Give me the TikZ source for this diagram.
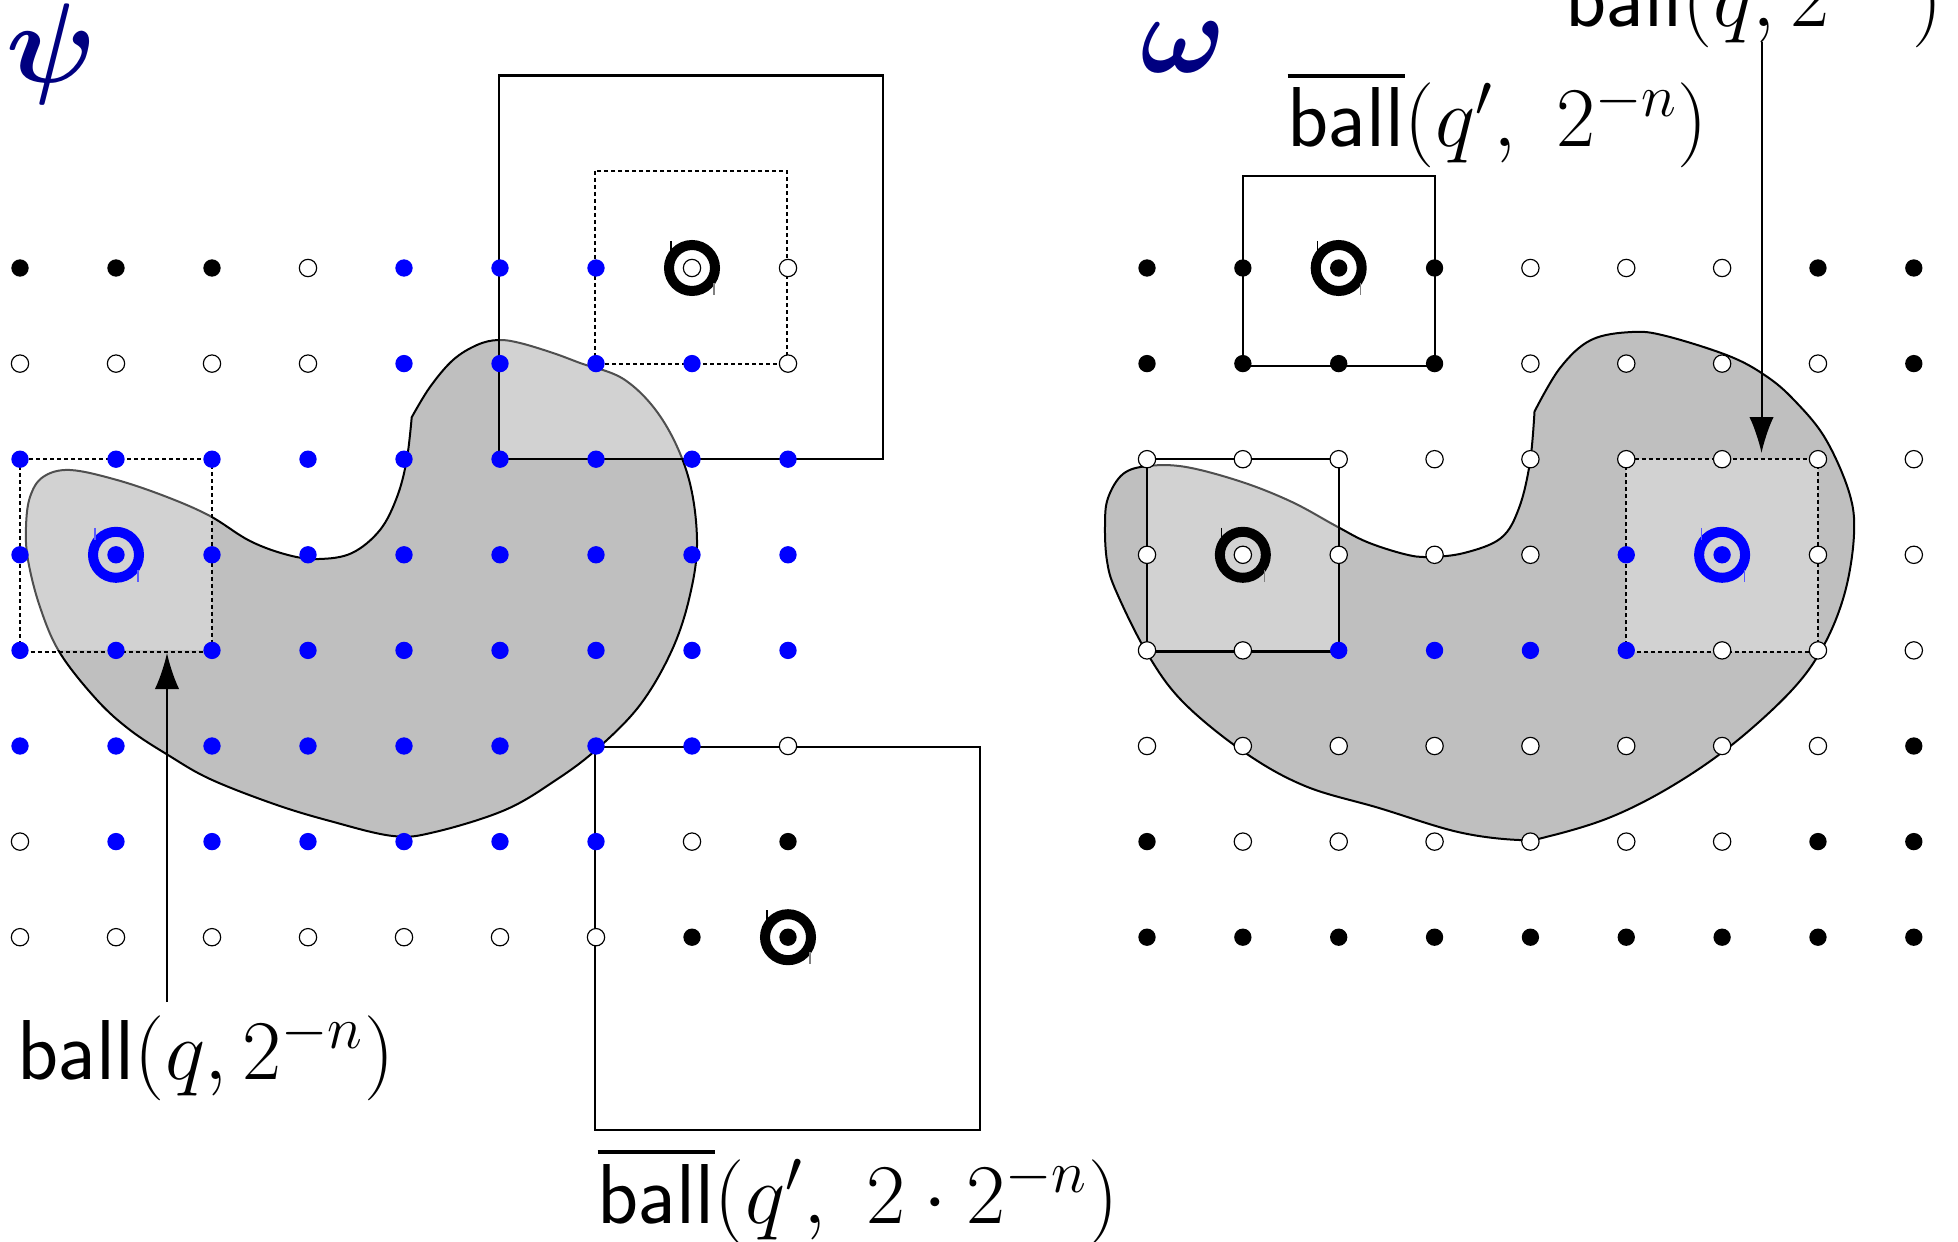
\RequirePackage{fix-cm}
\documentclass[tikz,border=0pt]{standalone}
\usepackage{amsmath,amssymb}
\usetikzlibrary{arrows.meta}
\definecolor{navy}{RGB}{0,0,128}
\definecolor{blobgray}{RGB}{191,191,191}
\definecolor{dotblue}{RGB}{0,0,255}
\definecolor{tickblue}{RGB}{90,90,255}
\begin{document}
\begin{tikzpicture}[x=0.3pt,y=-0.3pt,
  blob/.style={fill=blobgray, draw=black, line width=0.6pt},
  haze/.style={fill=white, fill opacity=0.31},
  solidbox/.style={draw=black, line width=0.7pt},
  dotbox/.style={draw=black, line width=0.6pt, dash pattern=on 1.2pt off 0.9pt},
  dotB/.style={fill=black},
  dotW/.style={fill=white, draw=black, line width=0.35pt},
  dotL/.style={fill=dotblue},
  ringK/.style={draw=black, line width=3pt},
  ringL/.style={draw=dotblue, line width=3pt},
  tickK/.style={draw=black, line width=0.35pt},
  tickG/.style={draw=gray, line width=0.35pt},
  tickL/.style={draw=tickblue, line width=0.35pt},
  lab/.style={inner sep=0pt, font=\fontsize{25.5}{30}\selectfont, anchor=base west},
  greek/.style={inner sep=0pt, text=navy, font=\fontsize{34}{40}\selectfont},
  arr/.style={-{Latex[length=10.8pt,width=7.3pt]}, line width=0.6pt}]
\useasboundingbox (0,0) rectangle (1958,1242);

% ---------- blobs ----------
\path[blob] plot[smooth, tension=0.6] coordinates {
 (411.7,417.3) (406.7,460) (397,497) (380,530) (352,553) (319,559) (288,555)
 (250,541) (210,516) (167,497) (117,480) (70,470) (43,477) (30,497) (26,527)
 (28,560) (40,607) (60,653) (97,700) (130,730) (168,755) (210,779) (274,804)
 (330,821) (393,836) (435,832) (505,810) (556,780) (597,749) (640,705)
 (672,650) (690,595) (697,540) (688,476) (662,419) (625,380) (580,363)
 (553,353) (520,343) (498,340) (477,345) (453,360) (430,387) (411.7,417.3)} -- cycle;
\path[blob] plot[smooth, tension=0.6] coordinates {
 (1534.5,411.5) (1530,462) (1519,508) (1501,538) (1464,553) (1428,557)
 (1404,554) (1367,542) (1336,526) (1292,502) (1242,482) (1186,467) (1148,466)
 (1123,474) (1108,498) (1105,525) (1107,561) (1116,591) (1147,653) (1183,702)
 (1244,752) (1305,786) (1379,808) (1458,832) (1519,840) (1550,836) (1611,817)
 (1672,786) (1733,744) (1792,690) (1824,645) (1845,592) (1854,534) (1849,492)
 (1825,438) (1794,400) (1766,376) (1729,356) (1666,336) (1632,332) (1591,340)
 (1560,368) (1534.5,411.5)} -- cycle;

% ---------- lightened regions ----------
\fill[haze] (20,459.2) rectangle (212,650.4);
\fill[haze] (499,75.5) rectangle (883,459.2);
\fill[haze] (595,747) rectangle (980,1130);
\fill[haze] (1147,459.2) rectangle (1338.7,651.5);
\fill[haze] (1626,459.2) rectangle (1818,651.5);

% ---------- boxes ----------
\path[dotbox] (20,459.2) rectangle (212,651.5);
\path[solidbox] (499,75.5) rectangle (883,459.2);
\path[dotbox] (595,171) rectangle (787,363.6);
\path[solidbox] (595,747) rectangle (980,1130);
\path[solidbox] (1243,176) rectangle (1435,366);
\path[solidbox] (1147,459.2) rectangle (1338.7,651.5);
\path[dotbox] (1626,459.2) rectangle (1818,651.5);

% ---------- dots ----------
\foreach \row [count=\j from 0] in {
 {B,B,B,W,L,L,L,W,W},
 {W,W,W,W,L,L,L,L,W},
 {L,L,L,L,L,L,L,L,L},
 {L,L,L,L,L,L,L,L,L},
 {L,L,L,L,L,L,L,L,L},
 {L,L,L,L,L,L,L,L,W},
 {W,L,L,L,L,L,L,W,B},
 {W,W,W,W,W,W,W,B,B}}
 {\foreach \c [count=\i from 0] in \row
   {\path[dot\c] ({20+96*\i},{268+95.6*\j}) circle[radius=2.6pt];}}
\foreach \row [count=\j from 0] in {
 {B,B,B,B,W,W,W,B,B},
 {B,B,B,B,W,W,W,W,B},
 {W,W,W,W,W,W,W,W,W},
 {W,W,W,W,W,L,L,W,W},
 {W,W,L,L,L,L,W,W,W},
 {W,W,W,W,W,W,W,W,B},
 {B,W,W,W,W,W,W,B,B},
 {B,B,B,B,B,B,B,B,B}}
 {\foreach \c [count=\i from 0] in \row
   {\path[dot\c] ({1147+95.85*\i},{268+95.6*\j}) circle[radius=2.6pt];}}

% ---------- targets ----------
\foreach \cx/\cy/\rs/\ta/\tb in {692/268/ringK/tickK/tickG, 788/937.2/ringK/tickK/tickG,
  116/554.8/ringL/tickL/tickL, 1338.7/268/ringK/tickK/tickG,
  1242.85/554.8/ringK/tickK/tickG, 1722.1/554.8/ringL/tickL/tickL}
 {\path[\rs] (\cx,\cy) circle[radius=6.9pt];
  \path[\ta] ({\cx-21},{\cy-27}) -- ++(0,12);
  \path[\tb] ({\cx+22},{\cy+15}) -- ++(0,12);}

% ---------- labels ----------
\node[greek] (psi) at (52,54) {$\boldsymbol{\psi}$};
\node[greek] (omega) at (1183,47.5) {$\boldsymbol{\omega}$};
\node[lab] (l1) at (17,1079) {$\mathsf{ball}(q, 2^{-n})$};
\node[lab] (l2) at (597,1223) {$\overline{\mathsf{ball}}(q',\ 2\cdot 2^{-n})$};
\node[lab] (l3) at (1287,147) {$\overline{\mathsf{ball}}(q',\ 2^{-n})$};
\node[lab] (l4) at (1565,27) {$\mathsf{ball}(q, 2^{-n})$};

% ---------- arrows ----------
\coordinate (a1s) at (167,1002);
\coordinate (a1e) at (167,653);
\coordinate (a2s) at (1761.5,42);
\coordinate (a2e) at (1761.5,453);
\draw[arr] (a1s) -- (a1e);
\draw[arr] (a2s) -- (a2e);
\end{tikzpicture}
\end{document}
